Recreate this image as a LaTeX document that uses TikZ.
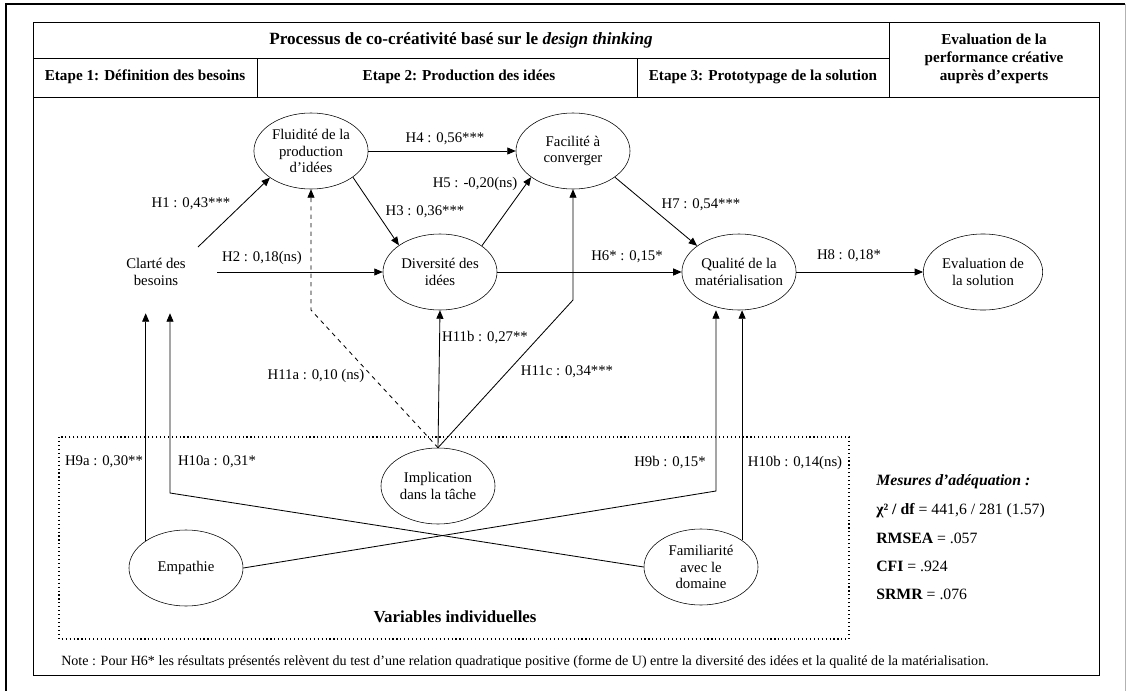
\documentclass[tikz,border=0pt]{standalone}
\usepackage{fontspec}
\setmainfont{Liberation Serif}
\usetikzlibrary{calc, arrows.meta, shapes.geometric}

\colorlet{FrameLine}{black}
\colorlet{PageEdge}{gray!60}
\tikzset{
  latentvar/.style = {draw, ellipse, minimum width=2.85cm, minimum height=1.9cm,
    inner sep=1pt, align=center, font=\fontsize{10.5}{11.8}\selectfont},
  coef/.style = {inner sep=1pt, font=\fontsize{10.5}{12}\selectfont},
  path arrow/.style = {-{Triangle[length=6pt, width=5pt]}, line width=0.6pt},
  header/.style = {align=center, font=\bfseries\fontsize{10.8}{12.8}\selectfont},
  fit measure/.style = {anchor=west, inner sep=0pt, font=\fontsize{11.2}{13}\selectfont},
}

\begin{document}
\begin{tikzpicture}[x=0.025cm, y=-0.025cm]
\useasboundingbox (0,0) rectangle (1127,691);

% frames and header
\draw[line width=1pt] (6,691) -- (6,4) -- (1125,4);
\draw[PageEdge] (1125.5,4) -- (1125.5,691);
\draw[FrameLine] (33,22) rectangle (1099,675);
\draw[FrameLine] (33,58) -- (889,58);
\draw[FrameLine] (33,97) -- (1099,97);
\draw[FrameLine] (257,58) -- (257,97);
\draw[FrameLine] (637,58) -- (637,97);
\draw[FrameLine] (889,22) -- (889,97);

\node[header, font=\bfseries\fontsize{12.2}{14}\selectfont] (titre) at (461,40) {Processus de co-créativité basé sur le \textit{design thinking}};
\node[header] (etape1) at (145,77) {Etape 1: Définition des besoins};
\node[header] (etape2) at (459,77) {Etape 2: Production des idées};
\node[header] (etape3) at (763,77) {Etape 3: Prototypage de la solution};
\node[header] (expert) at (994,59) {Evaluation de la\\performance créative\\auprès d’experts};

% individual variables
\draw[dotted, line width=0.8pt] (59,437) rectangle (849,639);
\node[font=\bfseries\fontsize{12}{14}\selectfont] (individ) at (455,617) {Variables individuelles};

% variables
\node[align=center, inner sep=0pt, minimum width=3.05cm, minimum height=2.05cm,
  font=\fontsize{10.5}{11.8}\selectfont] (clarte) at (156,272) {Clarté des\\besoins};
\node[latentvar] (fluid) at (311,151) {Fluidité de la\\production\\d’idées};
\node[latentvar] (facil) at (573,151) {Facilité à\\converger};
\node[latentvar] (divers) at (440,272) {Diversité des\\idées};
\node[latentvar, inner xsep=-2.5pt] (qualite) at (739,272) {Qualité de la\\matérialisation};
\node[latentvar] (solution) at (983,272) {Evaluation de\\la solution};
\node[latentvar] (implic) at (438,486) {Implication\\dans la tâche};
\node[latentvar] (empath) at (186,568) {Empathie};
\node[latentvar] (famil) at (701,567) {Familiarité\\avec le\\domaine};

\coordinate (h11a) at (311,310);
\coordinate (h11c) at (573,300);
\coordinate (h10a) at (170,493);
\coordinate (h9b) at (716,491);

% paths
\draw[path arrow] ($(clarte)+(42,-25)$) -- (fluid.213);
\draw[path arrow] (clarte.east) -- (divers.west);
\draw[path arrow] (fluid.328) -- (divers.147);
\draw[path arrow] (fluid.east) -- (facil.west);
\draw[path arrow] (divers.32) -- (facil.212);
\draw[path arrow] (divers.east) -- (qualite.west);
\draw[path arrow] (facil.328) -- (qualite.148);
\draw[path arrow] (qualite.east) -- (solution.west);
\draw[path arrow] (empath.146) -- (empath.146 |- clarte.south);
\draw[path arrow] (famil.west) -- (h10a) -- (h10a |- clarte.south);
\draw[path arrow] (empath.east) -- (h9b) -- (h9b |- qualite.south);
\draw[path arrow] (famil.33) -- (famil.33 |- qualite.south);
\draw[path arrow, dashed] (implic.north) -- (h11a) -- (fluid.south);
\draw[path arrow] (implic.north) -- (divers.south);
\draw[path arrow] (implic.north) -- (h11c) -- (facil.south);

\node[coef] (lh1) at (191,204) {H1 : 0,43***};
\node[coef] (lh2) at (262,258) {H2 : 0,18(ns)};
\node[coef] (lh3) at (425,212) {H3 : 0,36***};
\node[coef] (lh4) at (445,139) {H4 : 0,56***};
\node[coef] (lh5) at (475,184) {H5 : -0,20(ns)};
\node[coef] (lh6) at (627,257) {H6* : 0,15*};
\node[coef] (lh7) at (701,205) {H7 : 0,54***};
\node[coef] (lh8) at (849,256) {H8 : 0,18*};
\node[coef] (lh9a) at (104,462) {H9a : 0,30**};
\node[coef] (lh10a) at (217,462) {H10a : 0,31*};
\node[coef] (lh9b) at (670,463) {H9b : 0,15*};
\node[coef] (lh10b) at (795,463) {H10b : 0,14(ns)};
\node[coef] (lh11a) at (316,376) {H11a : 0,10 (ns)};
\node[coef] (lh11b) at (485,338) {H11b : 0,27**};
\node[coef] (lh11c) at (567,372) {H11c : 0,34***};

% fit measures
\node[fit measure, font=\bfseries\itshape\fontsize{11.2}{13}\selectfont] (mesures) at (876,482) {Mesures d’adéquation :};
\node[fit measure] (chi) at (876,511) {\textbf{χ² / df} = 441,6 / 281 (1.57)};
\node[fit measure] (rmsea) at (876,538) {\textbf{RMSEA} = .057};
\node[fit measure] (cfi) at (876,566) {\textbf{CFI} = .924};
\node[fit measure] (srmr) at (876,594) {\textbf{SRMR} = .076};

\node[anchor=west, inner sep=0pt, font=\fontsize{10}{12}\selectfont] (note) at (61,662)
  {Note : Pour H6* les résultats présentés relèvent du test d’une relation quadratique positive (forme de U) entre la diversité des idées et la qualité de la matérialisation.};

\end{tikzpicture}
\end{document}
